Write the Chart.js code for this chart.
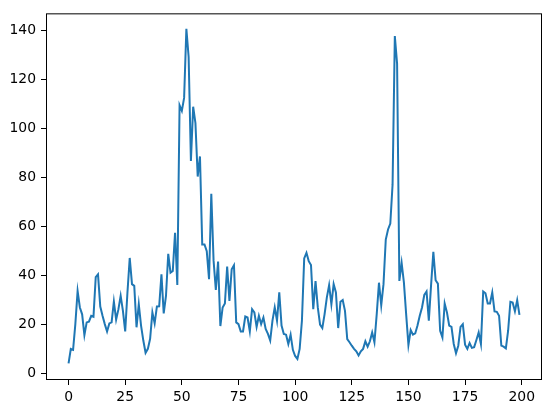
<!DOCTYPE html>
<html>
<head>
<meta charset="utf-8">
<script src="https://cdn.jsdelivr.net/npm/chart.js@4.4.0/dist/chart.umd.min.js"></script>
<style>
  html, body { margin: 0; padding: 0; background: #fff; }
  canvas { display: block; }
</style>
</head>
<body>
<canvas id="chart" width="552" height="413"></canvas>
<script>
// values, one per index 0..199
const values = [
  4, 9.9, 9.5, 20, 33.5, 26.8, 24, 15.5, 20.7, 21,
  23.4, 23, 39.2, 40.3, 27.2, 23.4, 20, 17, 20.3, 20.7,
  29.2, 21.8, 26, 31.5, 25.4, 17, 33, 47, 36.3, 35.6,
  18.7, 28.1, 19.4, 13.3, 8.3, 9.9, 14, 24.8, 20.3, 27.2,
  27.3, 40.3, 24.4, 31.5, 48.7, 41, 41.7, 57.3, 36, 109.3,
  107, 112.3, 140.5, 129, 86.6, 108.7, 102, 80.2, 88.4, 52.5,
  52.5, 49.8, 38.3, 73.2, 46, 34, 45.5, 19.2, 26.8, 28.4,
  43.5, 29.5, 42.4, 44, 20.7, 20, 17, 17, 23.1, 22.7,
  17, 26.1, 24.8, 18.9, 23.4, 20, 22.7, 18, 16, 13.3,
  21.4, 26.8, 21.4, 33, 19.4, 16, 15.7, 11.9, 15.7, 9.5,
  7, 5.8, 9.9, 21.4, 46.8, 49.1, 45.7, 44.1, 26.1, 37.6,
  26.8, 19.8, 18.4, 24.1, 30.9, 35.9, 28.1, 36.3, 32.9, 18.4,
  29.1, 29.8, 25.4, 13.9, 12.6, 11.2, 9.9, 8.9, 7.2, 8.9,
  9.9, 13, 10.8, 13, 16.6, 12.6, 24, 36.9, 27.7, 36.3,
  54.5, 58.6, 61, 76.9, 137.5, 126.2, 37.6, 45, 37, 24,
  11.5, 17.6, 15.7, 16.2, 19.4, 23.4, 26.8, 31.9, 33.3, 21.4,
  36, 49.5, 37.9, 36.5, 17.3, 14.6, 28.4, 24.8, 19.4, 18.9,
  11.9, 8.1, 11.2, 18.9, 20, 11.6, 9.9, 12.3, 10.3, 10.6,
  13.5, 16.6, 11.9, 33.3, 32.6, 28.4, 28.4, 32.9, 25.2, 25,
  23.4, 11.2, 10.8, 10.1, 17.3, 29.1, 28.8, 25.2, 29.8, 23.8
];
const xTicks = [0, 25, 50, 75, 100, 125, 150, 175, 200];
const yTicks = [0, 20, 40, 60, 80, 100, 120, 140];

const points = values.map((v, i) => ({ x: i, y: v }));

// draws the black frame round the plot area (matplotlib spines)
const frame = {
  id: 'frame',
  afterDraw(chart) {
    const a = chart.chartArea;
    const ctx = chart.ctx;
    ctx.save();
    ctx.strokeStyle = '#000';
    ctx.lineWidth = 1;
    ctx.strokeRect(a.left + 0.5, a.top + 0.5, a.right - a.left - 1, a.bottom - a.top - 1);
    ctx.restore();
  }
};

const tickFont = { family: 'DejaVu Sans', size: 13.9 };

new Chart(document.getElementById('chart'), {
  type: 'line',
  data: {
    datasets: [
      {
        data: points,
        borderColor: '#1f77b4',
        borderWidth: 2,
        pointRadius: 0,
        tension: 0,
      },
    ],
  },
  options: {
    responsive: false,
    animation: false,
    devicePixelRatio: 1,
    layout: { padding: { top: 10, right: 10, left: 0, bottom: 0 } },
    scales: {
      x: {
        type: 'linear',
        min: -9.95,
        max: 208.95,
        afterBuildTicks: (s) => { s.ticks = xTicks.map(v => ({ value: v })); },
        afterFit: (s) => { s.height = 33; },
        ticks: { font: tickFont, color: '#000', padding: 4, maxRotation: 0 },
        grid: { drawOnChartArea: false, drawTicks: true, tickLength: 5, color: '#000', lineWidth: 1 },
        border: { display: false },
      },
      y: {
        min: -2.8,
        max: 146.8,
        afterBuildTicks: (s) => { s.ticks = yTicks.map(v => ({ value: v })); },
        afterFit: (s) => { s.width = 46; },
        ticks: { font: tickFont, color: '#000', padding: 5 },
        grid: { drawOnChartArea: false, drawTicks: true, tickLength: 5, color: '#000', lineWidth: 1 },
        border: { display: false },
      },
    },
    plugins: {
      legend: { display: false },
      tooltip: { enabled: false },
    },
  },
  plugins: [frame],
});
</script>
</body>
</html>
